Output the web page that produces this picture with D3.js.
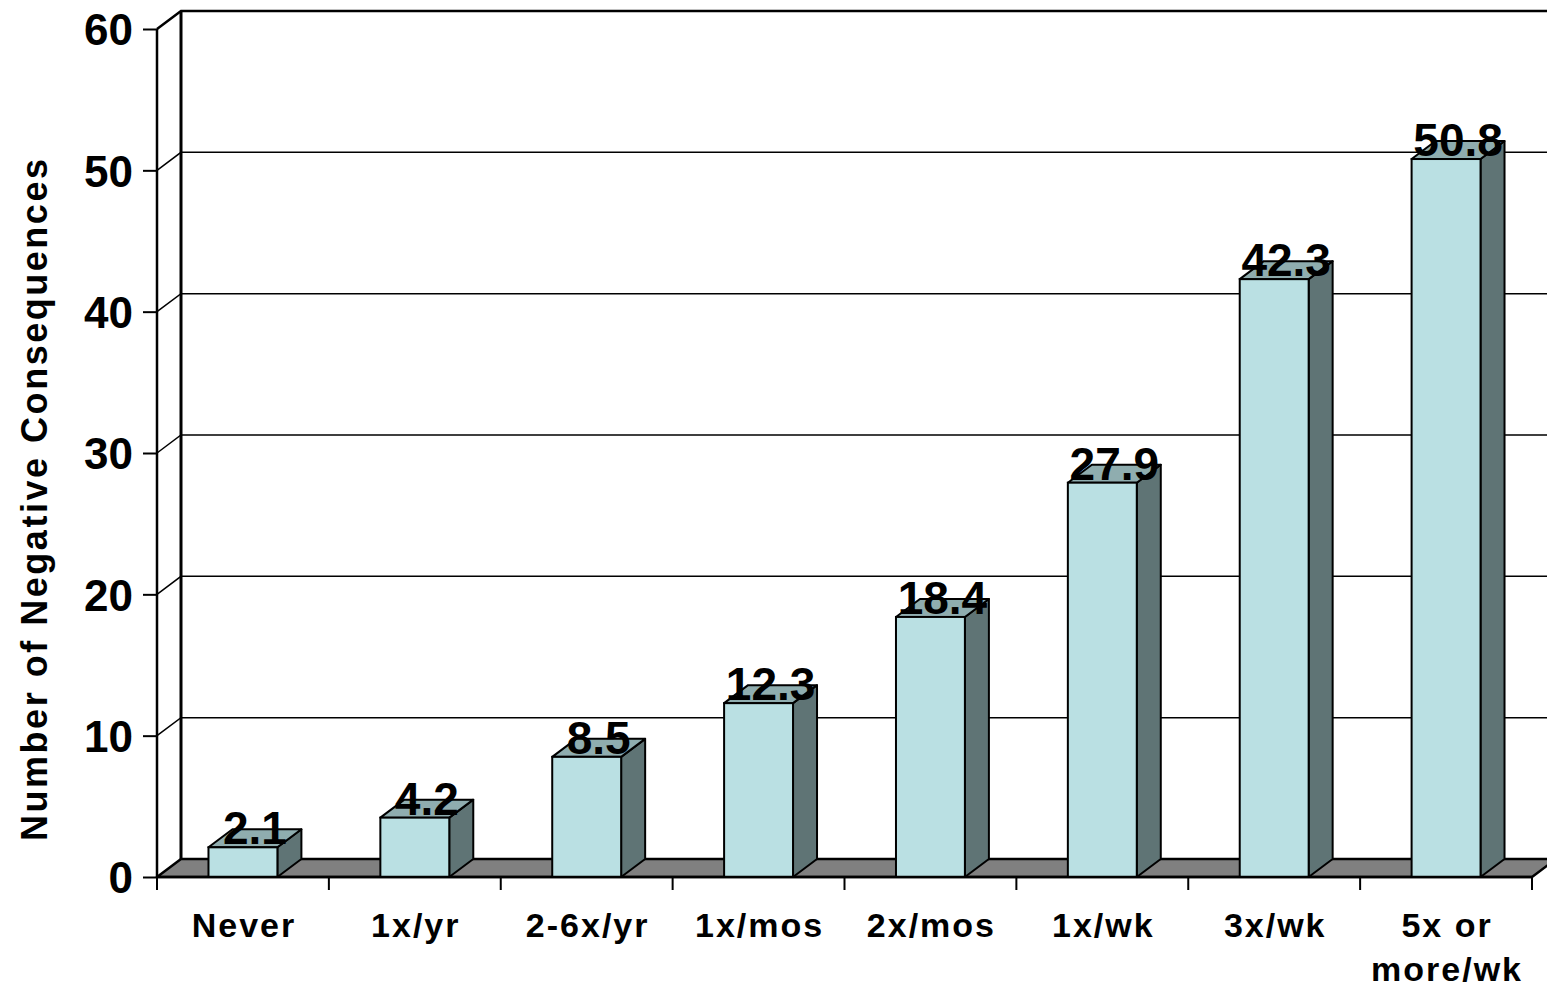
<!DOCTYPE html>
<html>
<head>
<meta charset="utf-8">
<script src="https://cdn.jsdelivr.net/npm/d3@7"></script>
<style>
  html, body { margin: 0; padding: 0; background: #ffffff; }
  svg { display: block; }
  text { font-family: "Liberation Sans", Arial, sans-serif; font-weight: bold; fill: #000; }
</style>
</head>
<body>
<svg id="chart" width="1547" height="991"></svg>
<script>
const categories = ["Never", "1x/yr", "2-6x/yr", "1x/mos", "2x/mos", "1x/wk", "3x/wk", "5x or\nmore/wk"];
const values = [2.1, 4.2, 8.5, 12.3, 18.4, 27.9, 42.3, 50.8];
const yTicks = [0, 10, 20, 30, 40, 50, 60];
const yTitle = "Number of Negative Consequences";

const svg = d3.select("#chart");
const plotLeft = 157, plotRight = 1532, plotBottom = 877, plotTop = 29;
const DX = 24, DY = -18;

const x = d3.scaleBand().domain(categories).range([plotLeft, plotRight]).padding(0);
const y = d3.scaleLinear().domain([0, 60]).range([plotBottom, plotTop]);
const barW = x.bandwidth() * 0.401;

const colors = { front: "#BAE0E3", top: "#8FADAF", side: "#5F7475", floor: "#808080" };

const g = svg.append("g");
// gridlines (left wall diagonal + back wall)
yTicks.filter(t => t > 0).forEach(t => {
  g.append("polyline")
    .attr("points", `${plotLeft},${y(t)} ${plotLeft + DX},${y(t) + DY} ${plotRight + DX + 40},${y(t) + DY}`)
    .attr("fill", "none").attr("stroke", "#000")
    .attr("stroke-width", t === 60 ? 2.5 : 1.5);
});
// back wall vertical edge
g.append("line").attr("x1", plotLeft + DX).attr("x2", plotLeft + DX)
  .attr("y1", y(60) + DY).attr("y2", y(0) + DY)
  .attr("stroke", "#000").attr("stroke-width", 3);

// floor
g.append("polygon")
  .attr("points", [[plotLeft, y(0)], [plotRight, y(0)], [plotRight + DX, y(0) + DY], [plotLeft + DX, y(0) + DY]].map(p => p.join(",")).join(" "))
  .attr("fill", colors.floor).attr("stroke", "#000").attr("stroke-width", 2.5).attr("stroke-linejoin", "round");

const data = categories.map((c, i) => ({ c, v: values[i] }));

// bars
const bars = svg.append("g").selectAll("g").data(data).join("g");
bars.each(function(d) {
  const b = d3.select(this);
  const x0 = x(d.c) + (x.bandwidth() - barW) / 2, x1 = x0 + barW;
  const yt = y(d.v), yb = y(0);
  const sw = 2;
  b.append("polygon")
    .attr("points", [[x1, yb], [x1 + DX, yb + DY], [x1 + DX, yt + DY], [x1, yt]].map(p => p.join(",")).join(" "))
    .attr("fill", colors.side).attr("stroke", "#000").attr("stroke-width", sw).attr("stroke-linejoin", "round");
  b.append("polygon")
    .attr("points", [[x0, yt], [x1, yt], [x1 + DX, yt + DY], [x0 + DX, yt + DY]].map(p => p.join(",")).join(" "))
    .attr("fill", colors.top).attr("stroke", "#000").attr("stroke-width", sw).attr("stroke-linejoin", "round");
  b.append("rect").attr("x", x0).attr("y", yt).attr("width", barW).attr("height", yb - yt)
    .attr("fill", colors.front).attr("stroke", "#000").attr("stroke-width", sw);
});

// value labels
svg.append("g").selectAll("text").data(data).join("text")
  .attr("x", d => x(d.c) + x.bandwidth() / 2 + DX / 2)
  .attr("y", d => y(d.v) - 3)
  .attr("text-anchor", "middle")
  .attr("font-size", 46)
  .text(d => d3.format(".1f")(d.v));

// y axis
const yAxis = svg.append("g").attr("transform", `translate(${plotLeft},0)`)
  .call(d3.axisLeft(y).tickValues(yTicks).tickSize(14).tickPadding(10).tickFormat(d3.format("d")));
yAxis.select(".domain").attr("stroke", "#000").attr("stroke-width", 2.5).attr("d", `M0,${y(60)}V${y(0)}`);
yAxis.selectAll(".tick line").attr("stroke", "#000").attr("stroke-width", 2);
yAxis.selectAll(".tick text").attr("font-size", 44).attr("font-family", "Liberation Sans, Arial, sans-serif")
  .attr("font-weight", "bold").attr("fill", "#000").attr("dy", "0.36em");

// x axis baseline and ticks at category boundaries
const xAxisG = svg.append("g");
const boundaries = categories.map(c => x(c)).concat([plotRight]);
xAxisG.append("line").attr("x1", plotLeft).attr("x2", plotRight).attr("y1", plotBottom).attr("y2", plotBottom)
  .attr("stroke", "#000").attr("stroke-width", 2.5);
xAxisG.selectAll("line.tk").data(boundaries).join("line").attr("class", "tk")
  .attr("x1", d => d).attr("x2", d => d).attr("y1", plotBottom).attr("y2", plotBottom + 13)
  .attr("stroke", "#000").attr("stroke-width", 2);

// category labels
const lab = svg.append("g").selectAll("text").data(categories).join("text")
  .attr("x", d => x(d) + x.bandwidth() / 2)
  .attr("y", 937)
  .attr("text-anchor", "middle")
  .attr("font-size", 34)
  .attr("letter-spacing", 2);
lab.each(function(d) {
  const t = d3.select(this);
  d.split("\n").forEach((line, i) => {
    t.append("tspan").attr("x", x(d) + x.bandwidth() / 2 + 1).attr("dy", i === 0 ? 0 : 44).text(line);
  });
});

// y title
svg.append("text")
  .attr("transform", `translate(47,500) rotate(-90)`)
  .attr("text-anchor", "middle")
  .attr("font-size", 36)
  .attr("textLength", 682)
  .attr("lengthAdjust", "spacing")
  .text(yTitle);
</script>
</body>
</html>
